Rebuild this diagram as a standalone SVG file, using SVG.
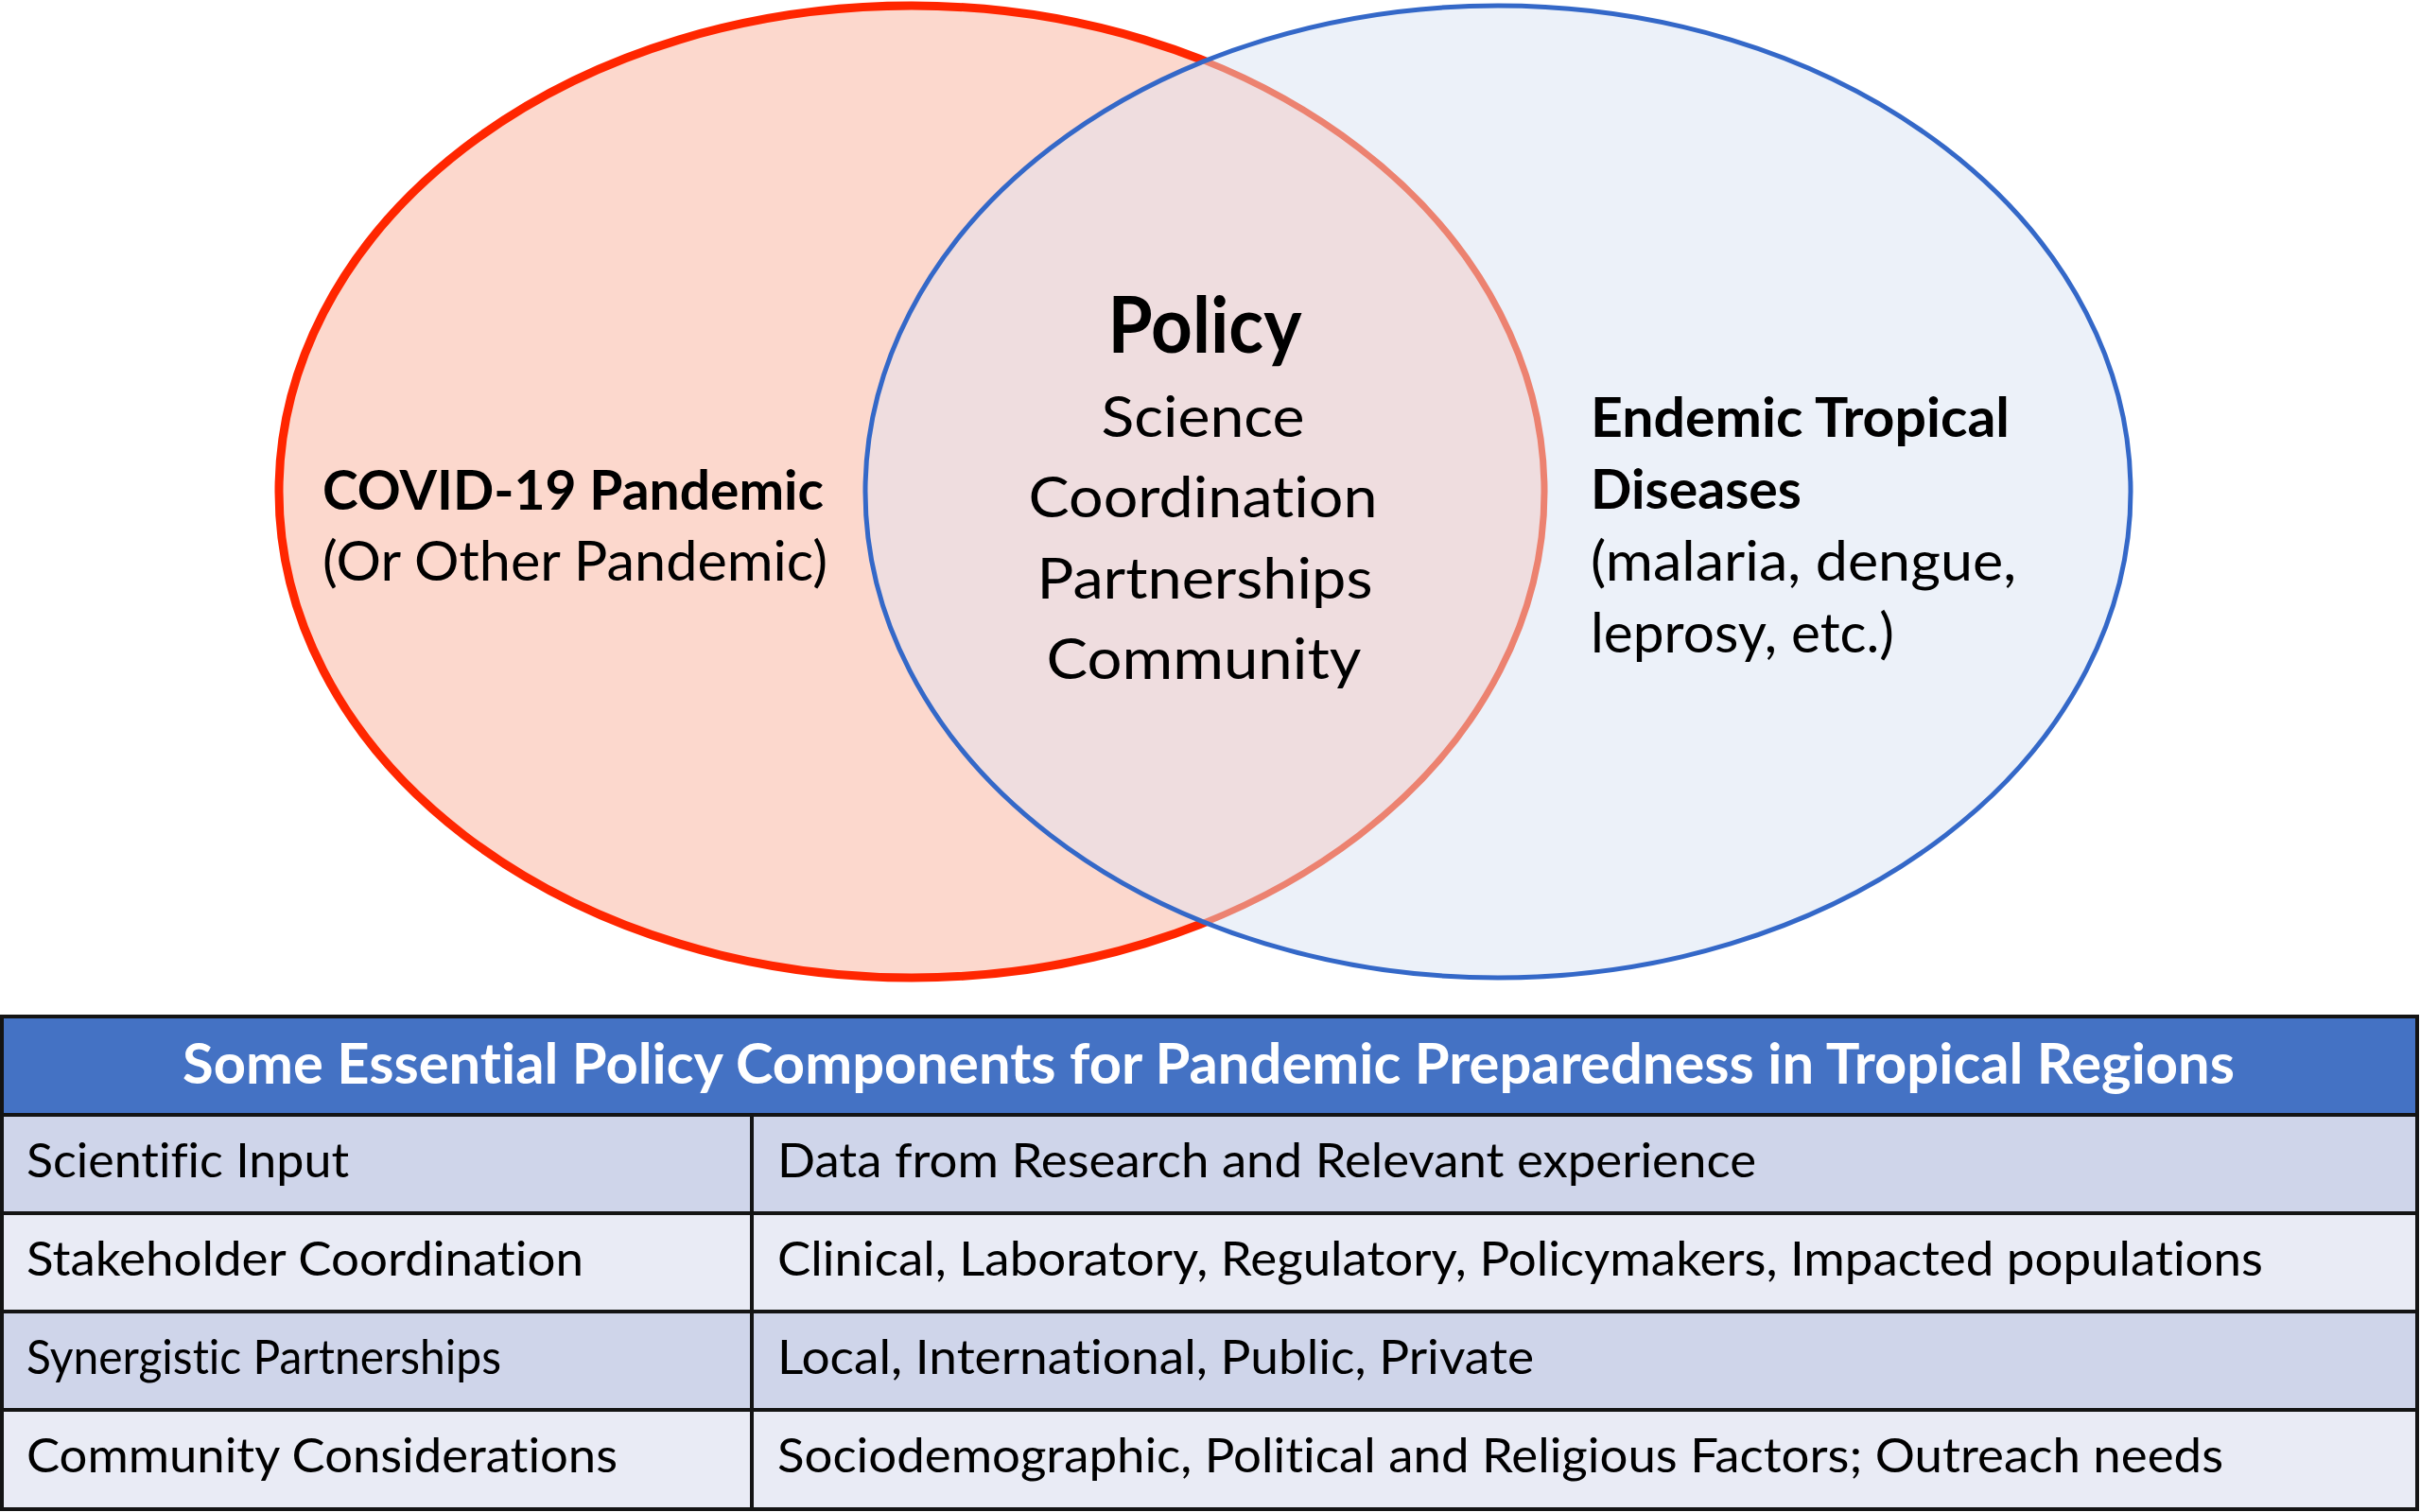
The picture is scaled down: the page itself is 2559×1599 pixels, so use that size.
<svg xmlns="http://www.w3.org/2000/svg" width="2559" height="1599" viewBox="0 0 2559 1599">
<style>
  .t { font-family: Lato, "Open Sans", "Liberation Sans", sans-serif; fill: #000; font-variant-ligatures: none; font-feature-settings: "liga" 0, "clig" 0; }
  .b { font-weight: bold; }
  .c { font-size: 60px; }
  .pol { font-size: 82px; }
  .side { font-size: 58px; }
  .cell { font-size: 50px; }
  .hdr { font-size: 59px; fill: #fff; font-weight: bold; }
  .grid { stroke: #141414; stroke-width: 4; fill: none; }
</style>
<defs>
  <clipPath id="clipR">
    <ellipse cx="1584" cy="520" rx="669" ry="514"/>
  </clipPath>
</defs>
<rect width="2559" height="1599" fill="#ffffff"/>

<g id="set-covid">
  <ellipse cx="964" cy="520" rx="669" ry="514" fill="#FCD8CD" stroke="#FF2600" stroke-width="9"/>
</g>
<g id="set-endemic">
  <ellipse cx="1584" cy="520" rx="669" ry="514" fill="#ECF1F9"/>
</g>
<g id="set-overlap" clip-path="url(#clipR)">
  <ellipse cx="964" cy="520" rx="669" ry="514" fill="#EFDDDF" stroke="#EC8270" stroke-width="7"/>
</g>
<g id="set-endemic-outline">
  <ellipse cx="1584" cy="520" rx="669" ry="514" fill="none" stroke="#3468C8" stroke-width="5"/>
</g>

<g id="label-covid">
  <text class="t b side" x="341" y="539" textLength="530" lengthAdjust="spacingAndGlyphs">COVID-19 Pandemic</text>
  <text class="t side" x="341" y="614" textLength="534" lengthAdjust="spacingAndGlyphs">(Or Other Pandemic)</text>
</g>
<g id="label-endemic">
  <text class="t b side" x="1682" y="462" textLength="443" lengthAdjust="spacingAndGlyphs">Endemic Tropical</text>
  <text class="t b side" x="1682" y="538" textLength="223" lengthAdjust="spacingAndGlyphs">Diseases</text>
  <text class="t side" x="1682" y="614" textLength="450" lengthAdjust="spacingAndGlyphs">(malaria, dengue,</text>
  <text class="t side" x="1682" y="690" textLength="321" lengthAdjust="spacingAndGlyphs">leprosy, etc.)</text>
</g>
<g id="label-policy" text-anchor="middle">
  <text class="t b pol" x="1274" y="373" textLength="205" lengthAdjust="spacingAndGlyphs">Policy</text>
  <text class="t c" x="1272" y="462" textLength="215" lengthAdjust="spacingAndGlyphs">Science</text>
  <text class="t c" x="1272" y="547" textLength="369" lengthAdjust="spacingAndGlyphs">Coordination</text>
  <text class="t c" x="1274" y="633" textLength="355" lengthAdjust="spacingAndGlyphs">Partnerships</text>
  <text class="t c" x="1273" y="718" textLength="333" lengthAdjust="spacingAndGlyphs">Community</text>
</g>

<g id="connectors"/>

<g id="table">
  <rect x="2" y="1075" width="2554" height="104" fill="#4472C4"/>
  <rect x="2" y="1179" width="2554" height="104" fill="#CFD5EA"/>
  <rect x="2" y="1283" width="2554" height="104" fill="#E9EBF5"/>
  <rect x="2" y="1387" width="2554" height="104" fill="#CFD5EA"/>
  <rect x="2" y="1491" width="2554" height="105" fill="#E9EBF5"/>
  <rect class="grid" x="2" y="1075" width="2554" height="521"/>
  <path class="grid" d="M2 1179H2556M2 1283H2556M2 1387H2556M2 1491H2556M795 1179V1596"/>
  <text class="t hdr" x="1278" y="1146" text-anchor="middle" textLength="2170" lengthAdjust="spacingAndGlyphs">Some Essential Policy Components for Pandemic Preparedness in Tropical Regions</text>
  <text class="t cell" x="28" y="1245" textLength="341" lengthAdjust="spacingAndGlyphs">Scientific Input</text>
  <text class="t cell" x="822" y="1245" textLength="1035" lengthAdjust="spacingAndGlyphs">Data from Research and Relevant experience</text>
  <text class="t cell" x="28" y="1349" textLength="589" lengthAdjust="spacingAndGlyphs">Stakeholder Coordination</text>
  <text class="t cell" x="822" y="1349" textLength="1571" lengthAdjust="spacingAndGlyphs">Clinical, Laboratory, Regulatory, Policymakers, Impacted populations</text>
  <text class="t cell" x="28" y="1453" textLength="502" lengthAdjust="spacingAndGlyphs">Synergistic Partnerships</text>
  <text class="t cell" x="822" y="1453" textLength="800" lengthAdjust="spacingAndGlyphs">Local, International, Public, Private</text>
  <text class="t cell" x="28" y="1557" textLength="625" lengthAdjust="spacingAndGlyphs">Community Considerations</text>
  <text class="t cell" x="822" y="1557" textLength="1529" lengthAdjust="spacingAndGlyphs">Sociodemographic, Political and Religious Factors; Outreach needs</text>
</g>
</svg>
